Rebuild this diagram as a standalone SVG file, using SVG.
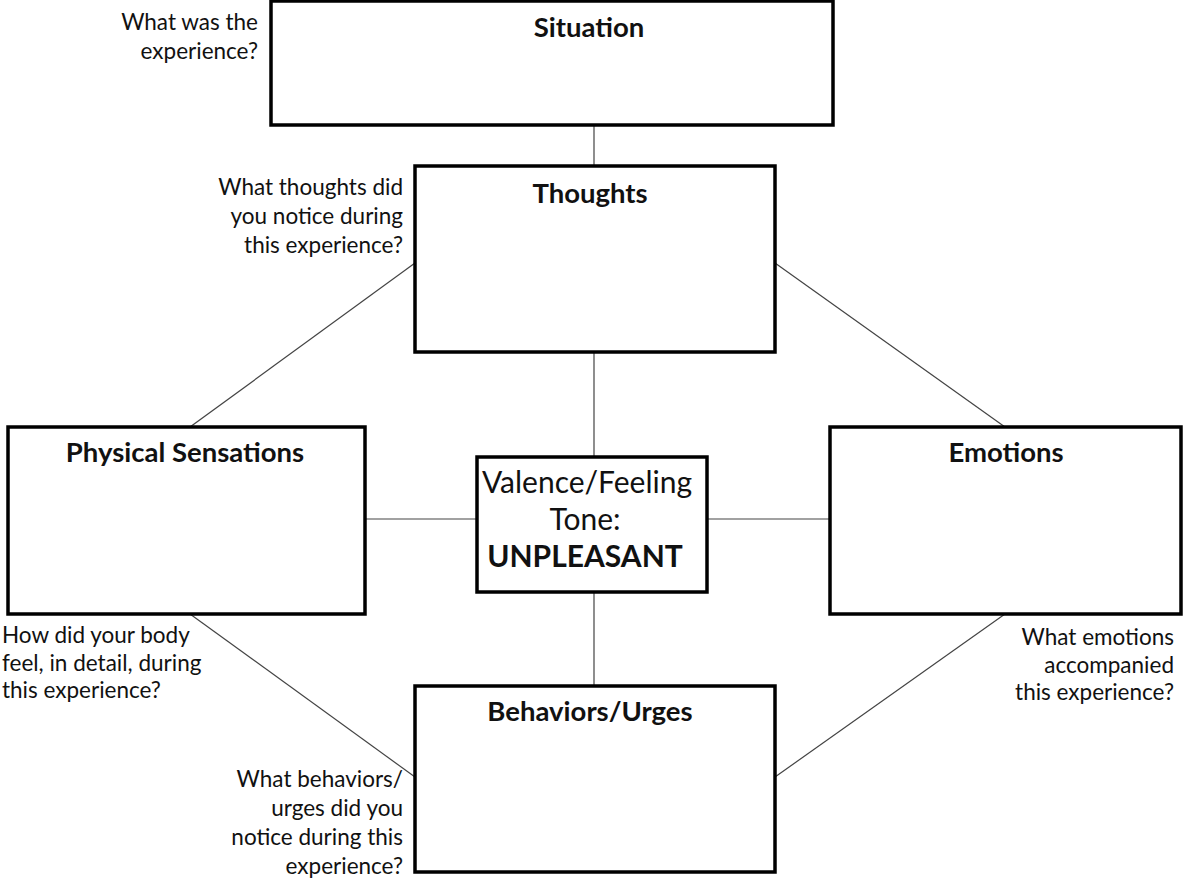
<svg xmlns="http://www.w3.org/2000/svg" width="1184" height="882" viewBox="0 0 1184 882">
<style>
.box{fill:#fff;stroke:#000;stroke-width:3.5}
.title{font-family:Lato,"Open Sans",sans-serif;font-weight:bold;font-size:27.5px;fill:#111;text-anchor:middle}
.q{font-family:Lato,"Open Sans",sans-serif;font-size:22.5px;fill:#111}
.r{text-anchor:end}
.conn line{stroke:#444;stroke-width:1.2}
.v{font-family:Lato,"Open Sans",sans-serif;font-size:30px;fill:#111;text-anchor:middle}
</style>
<rect width="1184" height="882" fill="#fff"/>
<g class="conn" id="connectors">
<line x1="594" y1="125" x2="594" y2="166"/>
<line x1="594" y1="352" x2="594" y2="457"/>
<line x1="594" y1="592" x2="594" y2="686"/>
<line x1="415" y1="263" x2="190" y2="427"/>
<line x1="775" y1="263" x2="1005" y2="427"/>
<line x1="190" y1="614" x2="415" y2="777"/>
<line x1="1005" y1="614" x2="775" y2="777"/>
<line x1="365" y1="519" x2="477" y2="519"/>
<line x1="707" y1="519" x2="830" y2="519"/>
</g>
<g id="situation">
<rect class="box" x="271" y="1" width="562" height="124"/>
<text class="title" x="589" y="37">Situation</text>
</g>
<g id="situation-q">
<text class="q r" x="258" y="30">What was the</text>
<text class="q r" x="258" y="59">experience?</text>
</g>
<g id="thoughts">
<rect class="box" x="415" y="166" width="360" height="186"/>
<text class="title" x="590" y="203">Thoughts</text>
</g>
<g id="thoughts-q">
<text class="q r" x="403" y="195">What thoughts did</text>
<text class="q r" x="403" y="224">you notice during</text>
<text class="q r" x="403" y="253">this experience?</text>
</g>
<g id="physical">
<rect class="box" x="8" y="427" width="357" height="187"/>
<text class="title" x="185" y="462">Physical Sensations</text>
</g>
<g id="physical-q">
<text class="q" x="2" y="643">How did your body</text>
<text class="q" x="2" y="671">feel, in detail,  during</text>
<text class="q" x="2" y="698">this experience?</text>
</g>
<g id="emotions">
<rect class="box" x="830" y="427" width="351" height="187"/>
<text class="title" x="1006" y="462">Emotions</text>
</g>
<g id="emotions-q">
<text class="q r" x="1174" y="645">What emotions</text>
<text class="q r" x="1174" y="673">accompanied</text>
<text class="q r" x="1174" y="700">this experience?</text>
</g>
<g id="valence">
<rect class="box" x="477" y="457" width="230" height="135"/>
<text class="v" x="587" y="493">Valence/Feeling</text>
<text class="v" x="585" y="530">Tone:</text>
<text class="v" x="585" y="567" font-weight="bold" font-size="29">UNPLEASANT</text>
</g>
<g id="behaviors">
<rect class="box" x="415" y="686" width="360" height="186"/>
<text class="title" x="590" y="721">Behaviors/Urges</text>
</g>
<g id="behaviors-q">
<text class="q r" x="403" y="787">What behaviors/</text>
<text class="q r" x="403" y="816">urges did you</text>
<text class="q r" x="403" y="845">notice during this</text>
<text class="q r" x="403" y="874">experience?</text>
</g>
</svg>
